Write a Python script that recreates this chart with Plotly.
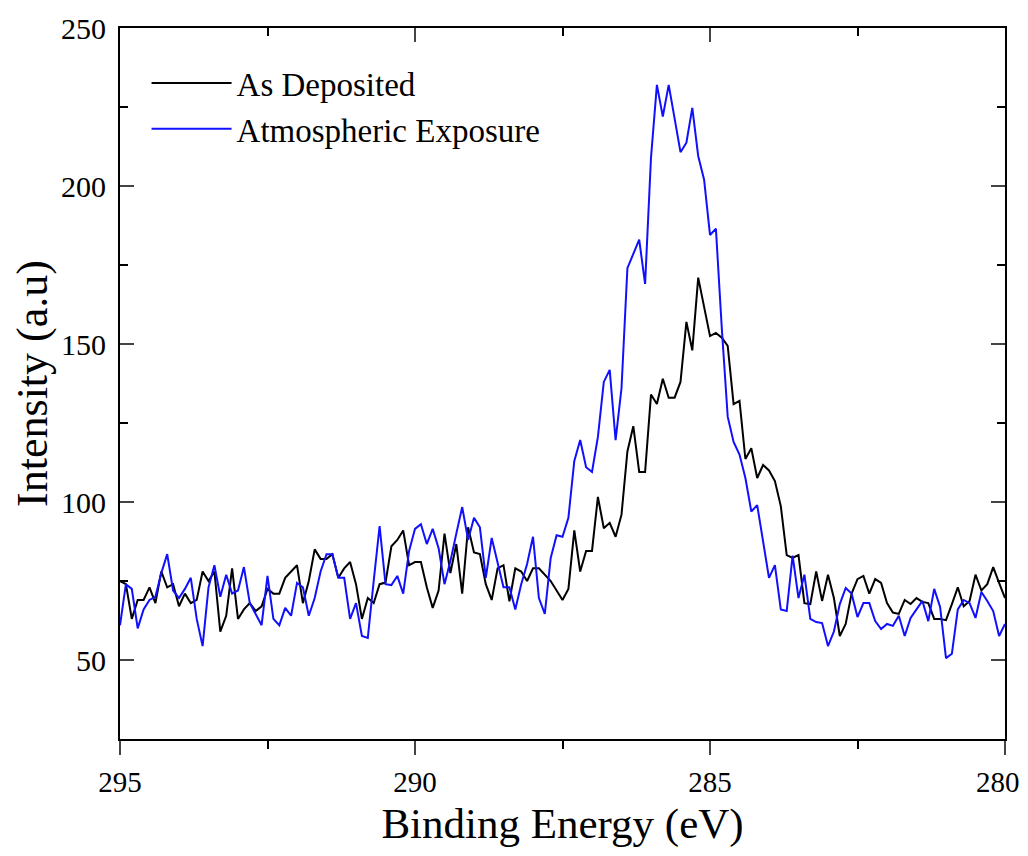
import plotly.graph_objects as go

# Binding energy grid (eV), 295 -> 280 in 0.1 eV steps
energy = [
    295.0, 294.9, 294.8, 294.7, 294.6, 294.5, 294.4, 294.3, 294.2, 294.1,
    294.0, 293.9, 293.8, 293.7, 293.6, 293.5, 293.4, 293.3, 293.2, 293.1,
    293.0, 292.9, 292.8, 292.7, 292.6, 292.5, 292.4, 292.3, 292.2, 292.1,
    292.0, 291.9, 291.8, 291.7, 291.6, 291.5, 291.4, 291.3, 291.2, 291.1,
    291.0, 290.9, 290.8, 290.7, 290.6, 290.5, 290.4, 290.3, 290.2, 290.1,
    290.0, 289.9, 289.8, 289.7, 289.6, 289.5, 289.4, 289.3, 289.2, 289.1,
    289.0, 288.9, 288.8, 288.7, 288.6, 288.5, 288.4, 288.3, 288.2, 288.1,
    288.0, 287.9, 287.8, 287.7, 287.6, 287.5, 287.4, 287.3, 287.2, 287.1,
    287.0, 286.9, 286.8, 286.7, 286.6, 286.5, 286.4, 286.3, 286.2, 286.1,
    286.0, 285.9, 285.8, 285.7, 285.6, 285.5, 285.4, 285.3, 285.2, 285.1,
    285.0, 284.9, 284.8, 284.7, 284.6, 284.5, 284.4, 284.3, 284.2, 284.1,
    284.0, 283.9, 283.8, 283.7, 283.6, 283.5, 283.4, 283.3, 283.2, 283.1,
    283.0, 282.9, 282.8, 282.7, 282.6, 282.5, 282.4, 282.3, 282.2, 282.1,
    282.0, 281.9, 281.8, 281.7, 281.6, 281.5, 281.4, 281.3, 281.2, 281.1,
    281.0, 280.9, 280.8, 280.7, 280.6, 280.5, 280.4, 280.3, 280.2, 280.1,
    280.0,
]

as_deposited = [
    75, 74, 63, 69, 69, 73, 68, 78, 73, 74,
    67, 71, 68, 69, 78, 75, 78, 59, 64, 79,
    63, 66, 68, 65.5, 67, 72.5, 71, 71, 76, 78,
    80, 68, 75, 85, 82, 82, 83.5, 76, 79, 81,
    74, 63, 69.6, 68, 74, 74.5, 86, 88, 91, 80,
    81, 81, 73, 66.5, 72, 90, 77.5, 86.7, 71, 92,
    84, 83.5, 74, 69, 79, 80, 68.6, 79, 78, 75,
    79, 79, 77, 75, 72, 69, 72.5, 91, 78, 84.5,
    84.5, 101.6, 91.7, 93.4, 89, 96, 116, 124, 109.5, 109.5,
    134, 131, 139, 133, 133, 138, 157, 148, 171, 162,
    152.5, 153.5, 152, 149.4, 131, 132, 113.6, 117, 107.6, 111.7,
    110, 106.6, 98.7, 83.2, 82.3, 83.2, 68, 67.7, 78, 68.7,
    77, 69.6, 57.6, 61.4, 71, 75.6, 76.6, 71, 75.6, 74.4,
    68, 65, 64.6, 69, 67.7, 69.6, 68.4, 68, 63, 63,
    62.6, 67.7, 73, 67, 68.7, 77, 72, 74, 79.4, 74.4,
    69.6,
]

atmospheric_exposure = [
    61, 74, 72.5, 60, 66, 69, 70, 77.5, 83.5, 72,
    69.6, 72.5, 76, 63, 54.4, 73, 80, 70, 77, 71,
    72, 79.4, 68, 64.6, 61, 76.6, 63, 61, 66.5, 64,
    74.4, 73, 64, 69.6, 78, 83.5, 83.5, 76, 76, 63,
    68, 57.6, 57, 75, 92.4, 74, 73.7, 76.6, 71, 84.5,
    91.5, 93, 86.7, 91.5, 85.4, 74, 81.3, 90, 98.4, 88,
    95, 92, 76, 88.6, 80.4, 73, 73, 66, 74, 80.4,
    89, 69.6, 64.6, 82.3, 89.5, 89, 95, 113, 119.6, 111,
    109.5, 120.6, 138, 141.8, 119.6, 136, 174, 178.8, 183, 169,
    209, 232, 222, 232, 221.6, 210.7, 213.7, 224.7, 209.5, 202,
    184.5, 186.5, 155, 127, 119, 115, 107.6, 97, 99, 88,
    76, 80, 66, 65.5, 83, 69.6, 77, 63, 62, 61.7,
    54.4, 59, 67.7, 72.8, 71, 63.6, 68, 68, 62.3, 59.8,
    61.4, 60.8, 64, 57.6, 63.3, 66, 68.7, 62.3, 72.5, 66.8,
    50.6, 52, 66, 69, 68, 63.3, 71.5, 68.7, 65.5, 57.6,
    61.4,
]

x_range = [295, 280]
y_range = [25, 250]
x_ticks = [295, 290, 285, 280]
# trailing no-break spaces keep the last label inside the page edge
x_tick_labels = ["295", "290", "285", "280\u00a0\u00a0"]
y_ticks = [50, 100, 150, 200, 250]

FONT = "Liberation Serif, Times New Roman, serif"

fig = go.Figure()
fig.add_trace(go.Scatter(x=energy, y=as_deposited, mode="lines", name="As Deposited",
                         line=dict(color="#000000", width=2)))
fig.add_trace(go.Scatter(x=energy, y=atmospheric_exposure, mode="lines", name="Atmospheric Exposure",
                         line=dict(color="#1010ff", width=2)))
# helper trace so that the top (mirror) axis is drawn
fig.add_trace(go.Scatter(x=[energy[0]], y=[as_deposited[0]], xaxis="x2", mode="markers",
                         marker=dict(opacity=0), showlegend=False, hoverinfo="skip"))

# the page body adds 8 px margins, so the figure is smaller than the window
fig.update_layout(
    width=1020, height=840,
    margin=dict(l=112, r=23, t=20, b=109, autoexpand=False),
    paper_bgcolor="white", plot_bgcolor="white",
    font=dict(family=FONT, color="black"),
    showlegend=True,
    legend=dict(x=0.03, y=0.962, xanchor="left", yanchor="top",
                font=dict(family=FONT, size=33, color="black"),
                bgcolor="rgba(0,0,0,0)", itemwidth=80, tracegroupgap=0),
    xaxis=dict(range=x_range, tickvals=x_ticks, ticktext=x_tick_labels,
               ticks="outside", ticklen=14, tickwidth=2,
               showline=True, linewidth=2, linecolor="black", mirror=False, automargin=False,
               showgrid=False, zeroline=False, ticklabelstandoff=2, ticklabeloverflow="allow",
               minor=dict(dtick=2.5, tick0=280, ticks="outside", ticklen=8, tickwidth=2, tickcolor="black"),
               tickfont=dict(family=FONT, size=29, color="black"),
               title=dict(text="Binding Energy (eV)", font=dict(family=FONT, size=43, color="black"), standoff=12)),
    xaxis2=dict(range=x_range, overlaying="x", side="top", tickvals=x_ticks, ticks="inside",
                ticklen=14, tickwidth=2, showline=True, linewidth=2, linecolor="black", automargin=False,
                showticklabels=False, showgrid=False, zeroline=False,
                minor=dict(dtick=2.5, tick0=280, ticks="inside", ticklen=8, tickwidth=2, tickcolor="black")),
    yaxis=dict(range=y_range, tickvals=y_ticks, ticks="inside", ticklen=14, tickwidth=2,
               showline=True, linewidth=2, linecolor="black", mirror="ticks", automargin=False,
               showgrid=False, zeroline=False, ticklabelstandoff=6, ticklabeloverflow="allow",
               minor=dict(dtick=25, tick0=25, ticks="inside", ticklen=8, tickwidth=2, tickcolor="black"),
               tickfont=dict(family=FONT, size=30, color="black"),
               title=dict(text="Intensity (a.u)", font=dict(family=FONT, size=44, color="black"), standoff=10)),
)

fig.write_html("out.html")
